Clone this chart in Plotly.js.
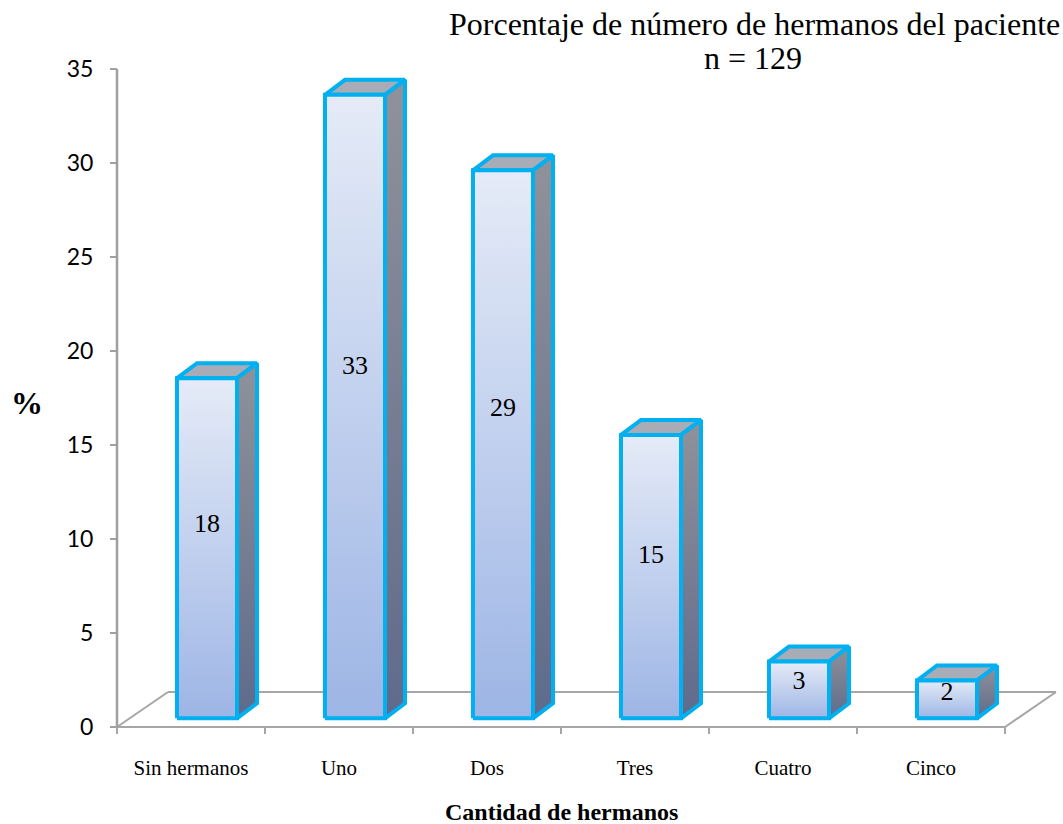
<!DOCTYPE html>
<html>
<head>
<meta charset="utf-8">
<script src="https://cdn.plot.ly/plotly-3.0.1.min.js"></script>
<style>html,body{margin:0;padding:0;background:#fff;}#chart{width:1063px;height:824px;}</style>
</head>
<body>
<div id="chart"></div>
<script>
// ---- data ----
var categories = ["Sin hermanos", "Uno", "Dos", "Tres", "Cuatro", "Cinco"];
var values = [18, 33, 29, 15, 3, 2];
var yTickVals = [0, 5, 10, 15, 20, 25, 30, 35];
var yTickText = ["0", "5", "10", "15", "20", "25", "30", "35"];
var titleLine1 = "Porcentaje de número de hermanos del paciente";
var titleLine2 = "n = 129";
var xTitleText = "Cantidad de hermanos";
var yTitleText = "%";

// ---- geometry / style (pixels → data units) ----
var W = 1063, H = 824;
var mL = 100, mR = 3, mT = 60, mB = 79;
var pxPerX = 148, xAt0px = 117 + 74;     // category 0 centre
var pxPerY = 18.8, yZeroPx = 727;
var plotW = W - mL - mR, plotH = H - mT - mB;
var xRange = [(mL - xAt0px) / pxPerX, (W - mR - xAt0px) / pxPerX];
var yRange = [-(mT + plotH - yZeroPx) / pxPerY, (yZeroPx - mT) / pxPerY];
function px2paperX(p) { return (p - mL) / plotW; }
function px2paperY(p) { return (mT + plotH - p) / plotH; }

var fx0 = -14 / pxPerX, fx1 = 46 / pxPerX;   // front face
var dx = 20 / pxPerX, dy = 15 / pxPerY;       // depth
var base = 8.7 / pxPerY, vScale = 1.005;
var outline = "#00b0f0";
var serif = "Liberation Serif";

var traces = [];
categories.forEach(function (c, i) {
  var x0 = i + fx0, x1 = i + fx1;
  var y0 = base, y1 = base + values[i] * vScale;
  traces.push({
    type: "scatter", mode: "lines", hoverinfo: "skip", showlegend: false,
    x: [x0, x1, x1 + dx, x0 + dx, x0], y: [y1, y1, y1 + dy, y1 + dy, y1],
    fill: "toself", fillcolor: "#a8acb6",
    line: {color: outline, width: 4}
  });
  traces.push({
    type: "scatter", mode: "lines", hoverinfo: "skip", showlegend: false,
    x: [x1, x1 + dx, x1 + dx, x1, x1], y: [y0, y0 + dy, y1 + dy, y1, y0],
    fill: "toself",
    fillgradient: {type: "vertical", colorscale: [[0, "#5e6b8c"], [1, "#8f9299"]]},
    line: {color: outline, width: 4}
  });
  traces.push({
    type: "scatter", mode: "lines", hoverinfo: "skip", showlegend: false,
    x: [x0, x1, x1, x0, x0], y: [y0, y0, y1, y1, y0],
    fill: "toself",
    fillgradient: {type: "vertical", colorscale: [[0, "#9db5e5"], [1, "#e5ebf7"]]},
    line: {color: outline, width: 4}
  });
});
traces.push({
  type: "scatter", mode: "text", hoverinfo: "skip", showlegend: false,
  x: categories.map(function (c, i) { return i + (fx0 + fx1) / 2; }),
  y: values.map(function (v) { return base + v * 0.56 + 0.2; }),
  text: values.map(String),
  textfont: {family: serif, size: 26, color: "#000"}
});

var grey = "#a6a6a6";
var nCat = categories.length;
var xl = -0.5, xr = nCat - 0.5;
var backY = 35 / pxPerY, backDx = 51 / pxPerX;
var shapes = [
  {type: "line", xref: "x", yref: "y", x0: xl, y0: 0, x1: xr, y1: 0, line: {color: grey, width: 2}, layer: "below"},
  {type: "line", xref: "x", yref: "y", x0: xl, y0: 0, x1: xl + backDx, y1: backY, line: {color: grey, width: 2}, layer: "below"},
  {type: "line", xref: "x", yref: "y", x0: xl + backDx, y0: backY, x1: xr + backDx, y1: backY, line: {color: grey, width: 2}, layer: "below"},
  {type: "line", xref: "x", yref: "y", x0: xr, y0: 0, x1: xr + backDx, y1: backY, line: {color: grey, width: 2}, layer: "below"},
  {type: "line", xref: "x", yref: "y", x0: xl, y0: 0, x1: xl, y1: 35, line: {color: "#a0a0a0", width: 2.5}, layer: "below"}
];
for (var k = 0; k <= nCat; k++) {
  shapes.push({type: "line", xref: "x", yref: "y", x0: xl + k, y0: 0, x1: xl + k, y1: -7 / pxPerY,
    line: {color: grey, width: 2}, layer: "below"});
}

var layout = {
  width: W, height: H,
  margin: {l: mL, r: mR, t: mT, b: mB, pad: 0},
  paper_bgcolor: "#fff", plot_bgcolor: "rgba(0,0,0,0)",
  showlegend: false,
  xaxis: {
    range: xRange, showgrid: false, zeroline: false, showline: false,
    tickmode: "array", tickvals: categories.map(function (c, i) { return i; }), ticktext: categories,
    ticks: "", ticklabelstandoff: 8,
    tickfont: {family: serif, size: 21, color: "#000"},
    fixedrange: true
  },
  yaxis: {
    range: yRange, showgrid: false, zeroline: false, showline: false,
    anchor: "free", position: px2paperX(117),
    tickmode: "array", tickvals: yTickVals, ticktext: yTickText,
    ticks: "outside", ticklen: 7, tickwidth: 2, tickcolor: "#a0a0a0", ticklabelstandoff: 12,
    tickfont: {family: "Lato", size: 23, color: "#000"},
    fixedrange: true
  },
  annotations: [
    {text: titleLine1, xref: "paper", yref: "paper", x: px2paperX(754), y: px2paperY(24),
      showarrow: false, xanchor: "center", yanchor: "middle",
      font: {family: serif, size: 32, color: "#000"}},
    {text: titleLine2, xref: "paper", yref: "paper", x: px2paperX(753), y: px2paperY(58),
      showarrow: false, xanchor: "center", yanchor: "middle",
      font: {family: serif, size: 32, color: "#000"}},
    {text: xTitleText, xref: "paper", yref: "paper", x: px2paperX(561), y: px2paperY(812),
      showarrow: false, xanchor: "center", yanchor: "middle",
      font: {family: serif, size: 24, color: "#000", weight: "bold"}},
    {text: yTitleText, xref: "paper", yref: "paper", x: px2paperX(27), y: px2paperY(403),
      showarrow: false, xanchor: "center", yanchor: "middle",
      font: {family: serif, size: 32, color: "#000", weight: "bold"}}
  ],
  shapes: shapes
};

Plotly.newPlot("chart", traces, layout, {displayModeBar: false, staticPlot: true});
</script>
</body>
</html>
